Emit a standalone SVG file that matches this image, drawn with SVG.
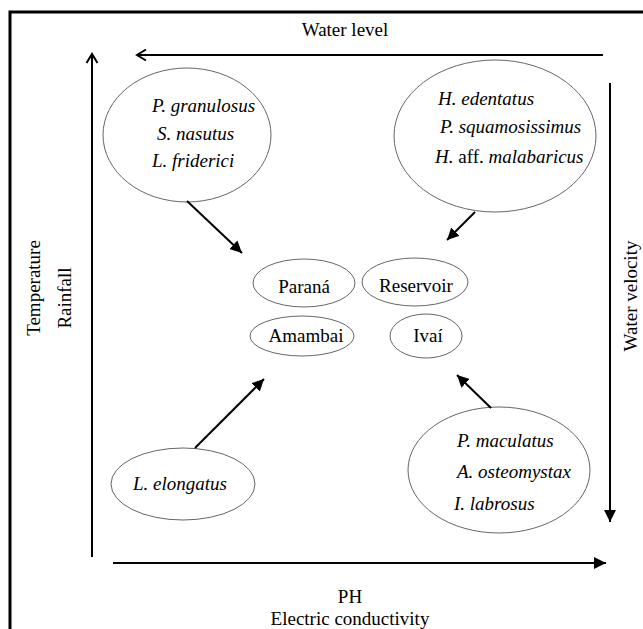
<svg xmlns="http://www.w3.org/2000/svg" width="643" height="629" viewBox="0 0 643 629">
<style>
text{font-family:"Liberation Serif","Times New Roman",serif;font-size:19px;fill:#000}
.i{font-style:italic}
.el{fill:none;stroke:#666;stroke-width:1}
.ax{stroke:#000;stroke-width:2;fill:none}
.ar{stroke:#000;stroke-width:2;fill:none;marker-end:url(#tri)}
</style>
<defs>
<marker id="tri" markerUnits="userSpaceOnUse" markerWidth="14" markerHeight="12" refX="12" refY="6" orient="auto">
<path d="M0,0 L12,6 L0,12 Z" fill="#000"/>
</marker>
<marker id="chev" markerUnits="userSpaceOnUse" markerWidth="14" markerHeight="14" refX="10" refY="7" orient="auto">
<path d="M1,1.5 L10,7 L1,12.5" fill="none" stroke="#000" stroke-width="2"/>
</marker>
</defs>
<rect x="0" y="0" width="643" height="629" fill="#fff"/>
<path d="M10,640 V12 H650" fill="none" stroke="#000" stroke-width="3"/>

<g id="axes">
<text x="345" y="36" text-anchor="middle">Water level</text>
<line class="ax" x1="603" y1="55" x2="137" y2="55" marker-end="url(#chev)"/>
<line class="ax" x1="92" y1="557" x2="92" y2="54" marker-end="url(#chev)"/>
<line class="ar" x1="610" y1="83" x2="610" y2="522"/>
<line class="ar" x1="113" y1="563" x2="606" y2="563"/>
<text transform="translate(40,288) rotate(-90)" text-anchor="middle">Temperature</text>
<text transform="translate(71,298) rotate(-90)" text-anchor="middle">Rainfall</text>
<text transform="translate(637,296) rotate(-90)" text-anchor="middle">Water velocity</text>
<text x="350" y="603" text-anchor="middle">PH</text>
<text x="350" y="625" text-anchor="middle">Electric conductivity</text>
</g>

<g id="tl">
<ellipse class="el" cx="187" cy="135" rx="84" ry="67"/>
<text class="i" x="152" y="112">P. granulosus</text>
<text class="i" x="157" y="140">S. nasutus</text>
<text class="i" x="152" y="167">L. friderici</text>
</g>
<g id="tr">
<ellipse class="el" cx="495" cy="136" rx="101" ry="76"/>
<text class="i" x="438" y="105">H. edentatus</text>
<text class="i" x="440" y="133">P. squamosissimus</text>
<text x="435" y="163"><tspan class="i">H.</tspan> aff. <tspan class="i">malabaricus</tspan></text>
</g>
<g id="bl">
<ellipse class="el" cx="183" cy="484" rx="72" ry="36"/>
<text class="i" x="133" y="490">L. elongatus</text>
</g>
<g id="br">
<ellipse class="el" cx="499" cy="470" rx="91" ry="63"/>
<text class="i" x="457" y="447">P. maculatus</text>
<text class="i" x="457" y="478">A. osteomystax</text>
<text class="i" x="454" y="510">I. labrosus</text>
</g>
<g id="parana">
<ellipse class="el" cx="304" cy="283" rx="51" ry="24"/>
<text x="304" y="293" text-anchor="middle">Paraná</text>
</g>
<g id="reservoir">
<ellipse class="el" cx="415" cy="282" rx="53" ry="24"/>
<text x="416" y="292" text-anchor="middle">Reservoir</text>
</g>
<g id="amambai">
<ellipse class="el" cx="302" cy="336" rx="52" ry="20"/>
<text x="306" y="342" text-anchor="middle">Amambai</text>
</g>
<g id="ivai">
<ellipse class="el" cx="426" cy="336" rx="36" ry="22"/>
<text x="428" y="342" text-anchor="middle">Ivaí</text>
</g>

<g id="connectors">
<line class="ar" x1="187" y1="201" x2="242" y2="253"/>
<line class="ar" x1="475" y1="212" x2="447" y2="240"/>
<line class="ar" x1="195" y1="448" x2="264" y2="379"/>
<line class="ar" x1="491" y1="408" x2="457" y2="375"/>
</g>
</svg>
